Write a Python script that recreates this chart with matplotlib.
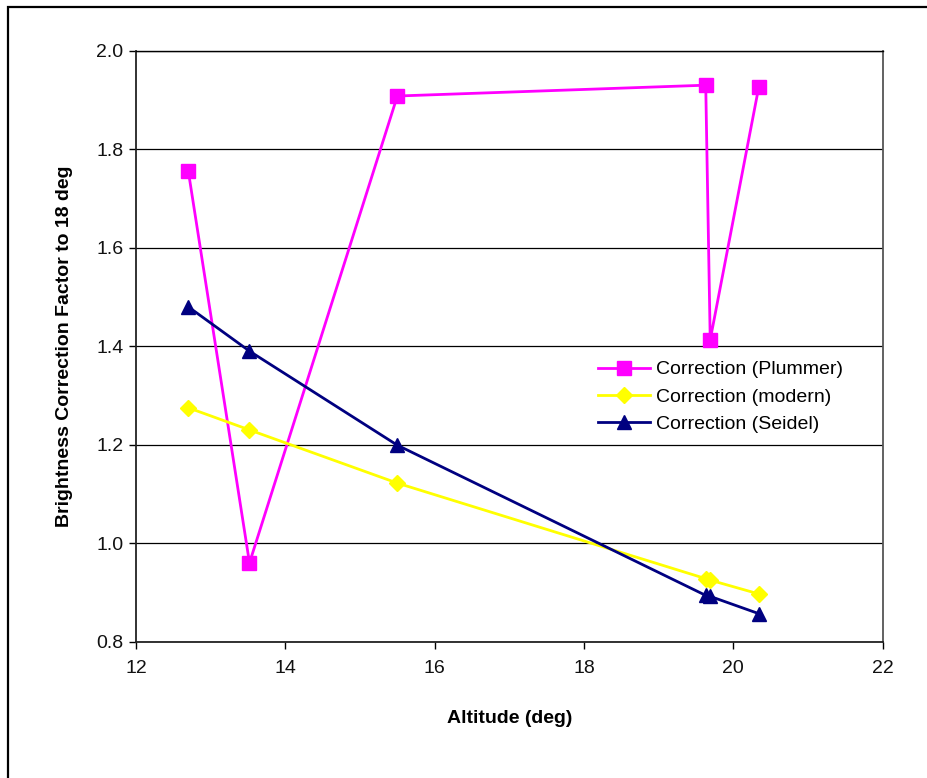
import matplotlib.pyplot as plt
from matplotlib.patches import Rectangle

# Altitude values (deg) shared by all three series
altitude = [12.70, 13.52, 15.50, 19.63, 19.69, 20.34]

plummer = [1.756, 0.960, 1.908, 1.930, 1.413, 1.926]
modern = [1.275, 1.230, 1.122, 0.928, 0.925, 0.897]
seidel = [1.480, 1.390, 1.199, 0.894, 0.892, 0.857]

x_ticks = [12, 14, 16, 18, 20, 22]
y_ticks = [0.8, 1.0, 1.2, 1.4, 1.6, 1.8, 2.0]

plt.rcParams['font.family'] = ['Liberation Sans', 'DejaVu Sans']

fig = plt.figure(figsize=(9.28, 7.78), dpi=100)
ax = fig.add_axes([136 / 928, 1 - 641.7 / 778, (882.7 - 136) / 928, (641.7 - 50.7) / 778])

# outer chart border (only left and top edges fall inside the image)
fig.patches.append(Rectangle((7.5 / 928, -0.1), 1.2, 1 - 7.5 / 778 + 0.1,
                             transform=fig.transFigure, fill=False,
                             edgecolor='black', linewidth=1.6))

ax.plot(altitude, plummer, color='#FF00FF', linewidth=2, marker='s',
        markersize=10, label='Correction (Plummer)', clip_on=False, zorder=3)
ax.plot(altitude, modern, color='#FFFF00', linewidth=2, marker='D',
        markersize=8.5, label='Correction (modern)', clip_on=False, zorder=3)
ax.plot(altitude, seidel, color='#000080', linewidth=2, marker='^',
        markersize=10, label='Correction (Seidel)', clip_on=False, zorder=3)

ax.set_xlim(12, 22)
ax.set_ylim(0.8, 2.0)
ax.set_xticks(x_ticks)
ax.set_yticks(y_ticks)
ax.set_yticklabels(['%.1f' % v for v in y_ticks])
ax.tick_params(direction='out', length=5, width=1, labelsize=14, labelcolor='#111111')
ax.tick_params(axis='y', pad=4)
ax.tick_params(axis='x', pad=8)
ax.yaxis.grid(True, color='black', linewidth=0.9)
ax.set_axisbelow(True)

for side in ['left', 'bottom']:
    ax.spines[side].set_linewidth(1.3)
    ax.spines[side].set_color('#222222')
ax.spines['top'].set_color('black')
ax.spines['top'].set_linewidth(1.0)
ax.spines['right'].set_color('#555555')
ax.spines['right'].set_linewidth(1.3)

ax.set_xlabel('Altitude (deg)', fontsize=14, fontweight='bold', labelpad=24)
ax.set_ylabel('Brightness Correction Factor to 18 deg', fontsize=14,
              fontweight='bold', labelpad=17)

ax.legend(loc='upper left', bbox_to_anchor=((590 - 136) / 746.7, (641.7 - 353) / 591),
          frameon=False, fontsize=14, handlelength=2.7, handletextpad=0.3,
          labelspacing=0.5, borderaxespad=0)

plt.savefig('out.png', dpi=100)
